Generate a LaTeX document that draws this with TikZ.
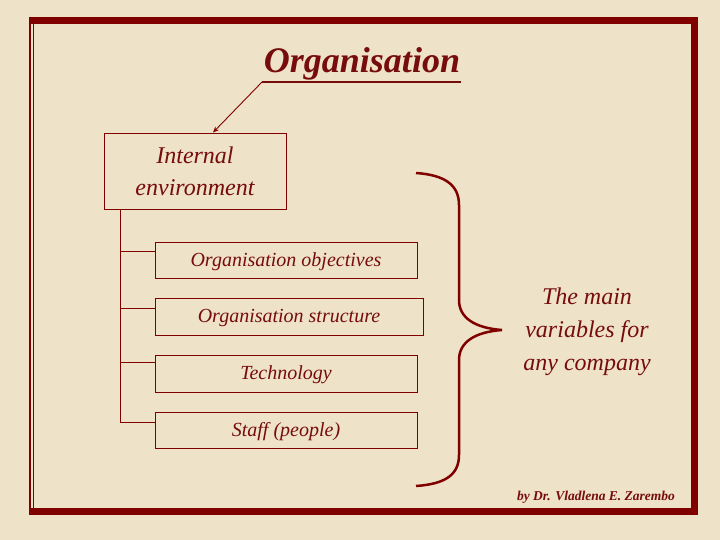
\documentclass[tikz,border=0pt]{standalone}
\usepackage{fontspec}
\setmainfont{Liberation Serif}
\usetikzlibrary{arrows.meta,calc}
\definecolor{bg}{RGB}{238,226,200}
\definecolor{dred}{RGB}{128,0,0}
\definecolor{tred}{RGB}{118,12,12}
\begin{document}
\begin{tikzpicture}[x=1pt,y=-1pt,
  txt/.style={text=tred,font=\itshape},
  box/.style={draw=dred,line width=0.9pt,inner sep=0pt,text=tred},
  itembox/.style={box,font=\itshape\fontsize{20}{22}\selectfont,text height=12pt,text depth=0pt},
  conn/.style={draw=dred,line width=0.9pt}]
\fill[bg] (0,0) rectangle (720,540);
\useasboundingbox (0,0) rectangle (720,540);
% frame
\draw[dred,line width=7pt] (29,20.5) -- (694,20.5) -- (694,511.5) -- (29,511.5);
\draw[dred,line width=2.5pt] (30,17) -- (30,515);
\draw[dred,line width=1pt] (33.5,24) -- (33.5,508);
% title
\node[txt,font=\bfseries\itshape\fontsize{36}{40}\selectfont] (title) at (362,64) {Organisation};
\coordinate (ul) at (262,82);
\coordinate (ur) at (461,82);
\draw[tred,line width=2pt] (ul) -- (ur);
% boxes
\node[box,minimum width=182pt,minimum height=76pt,align=center,font=\itshape\fontsize{24}{32}\selectfont] (env) at (195,171) {Internal\\environment};
\node[itembox,minimum width=262pt,minimum height=36pt] (obj) at (286,260) {Organisation objectives};
\node[itembox,minimum width=268pt,minimum height=37pt] (str) at (289,316.5) {Organisation structure};
\node[itembox,minimum width=262pt,minimum height=37pt] (tech) at (286,373.5) {Technology};
\node[itembox,minimum width=262pt,minimum height=36pt] (staff) at (286,430) {Staff (people)};
% arrow
\draw[conn,-{Stealth[length=6pt,width=5pt]}] (ul) -- ([xshift=18pt]env.north);
% tree
\coordinate (trunk) at ($(env.south west)+(17,0)$);
\coordinate (b1) at ($(obj.north west)!0.28!(obj.south west)$);
\coordinate (b2) at ($(str.north west)!0.3!(str.south west)$);
\coordinate (b3) at ($(tech.north west)!0.22!(tech.south west)$);
\coordinate (b4) at ($(staff.north west)!0.3!(staff.south west)$);
\draw[conn] (trunk) |- (b4);
\draw[conn] (trunk |- b1) -- (b1);
\draw[conn] (trunk |- b2) -- (b2);
\draw[conn] (trunk |- b3) -- (b3);
% brace
\draw[dred,line width=2.5pt] (416,173) .. controls (445,175) and (459,185) .. (459,205) -- (459,300)
  .. controls (459,318) and (475,328) .. (502,330)
  .. controls (475,332) and (459,342) .. (459,360) -- (459,455)
  .. controls (459,475) and (445,484) .. (416,486);
% right text
\node[txt,align=center,font=\itshape\fontsize{24}{33}\selectfont] (main) at (587,332) {The main\\variables for\\any company};
\node[txt,font=\bfseries\itshape\fontsize{13.5}{15}\selectfont] (credit) at (596,497) {by Dr. Vladlena E. Zarembo};
\end{tikzpicture}
\end{document}
